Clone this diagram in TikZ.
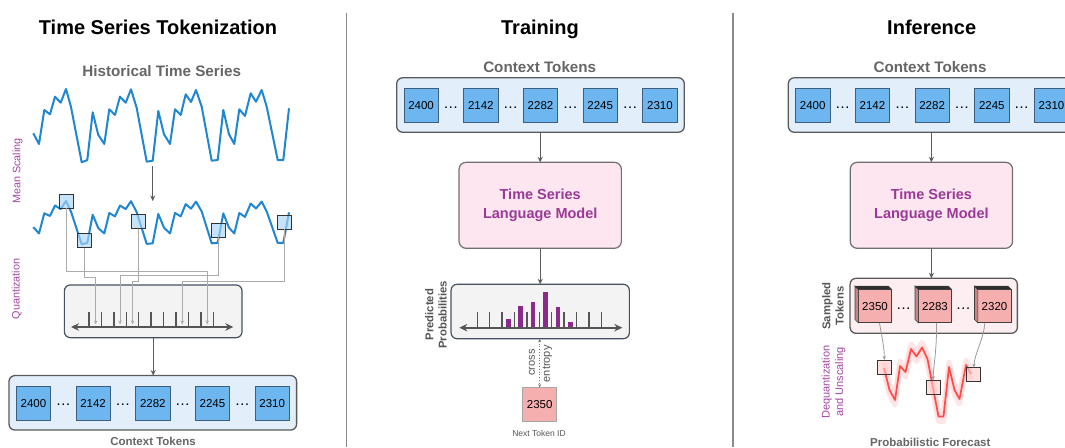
\documentclass[tikz,border=0pt]{standalone}
\usepackage{fontspec}
\setmainfont{Liberation Sans}
\usetikzlibrary{arrows.meta,calc}
\definecolor{tsblue}{HTML}{1F87D2}
\definecolor{tokfill}{HTML}{6DB6EF}
\definecolor{tokborder}{HTML}{3E5E7E}
\definecolor{ctxfill}{HTML}{E2EFFA}
\definecolor{boxborder}{HTML}{5A5A5A}
\definecolor{qfill}{HTML}{F3F3F3}
\definecolor{qborder}{HTML}{46525F}
\definecolor{lmfill}{HTML}{FDE6EF}
\definecolor{lmborder}{HTML}{707070}
\definecolor{lmtext}{HTML}{9A3A96}
\definecolor{plab}{HTML}{A346A3}
\definecolor{barc}{HTML}{8C2A8C}
\definecolor{txtgray}{HTML}{666666}
\definecolor{darkg}{HTML}{555555}
\definecolor{arrg}{HTML}{5C5C5C}
\definecolor{lineg}{HTML}{ABABAB}
\definecolor{redl}{HTML}{FF4A4A}
\definecolor{pinkband}{HTML}{FFDADA}
\definecolor{sfill}{HTML}{FDEFF1}
\definecolor{stokfill}{HTML}{F5AFAF}
\definecolor{stokside}{HTML}{C98383}
\definecolor{sqblue}{HTML}{A9D5F7}
\definecolor{sqpink}{HTML}{FFC8C8}
\definecolor{divg}{HTML}{8A8A8A}
\tikzset{
  titletxt/.style={font=\bfseries\fontsize{20}{24}\selectfont, anchor=base, inner sep=0pt},
  subtxt/.style={font=\bfseries\fontsize{15.2}{18}\selectfont, text=txtgray, anchor=base, inner sep=0pt},
  smalltxt/.style={font=\bfseries\fontsize{11.5}{13}\selectfont, text=txtgray, anchor=base, inner sep=0pt},
  tok/.style={draw=tokborder, fill=tokfill, line width=0.7pt, minimum size=34.3pt, inner sep=0pt, outer sep=0pt, font=\fontsize{11.5}{13}\selectfont},
  ctxbox/.style={draw=boxborder, fill=ctxfill, line width=1.3pt, rounded corners=6pt, minimum width=287.6pt, minimum height=54.5pt, inner sep=0pt, outer sep=0pt},
  dotstxt/.style={font=\fontsize{15}{16}\selectfont, inner sep=0pt},
  qbox/.style={draw=qborder, fill=qfill, line width=1.2pt, rounded corners=6pt, inner sep=0pt, outer sep=0pt},
  lmbox/.style={draw=lmborder, fill=lmfill, line width=1.2pt, rounded corners=7pt, minimum width=162.3pt, minimum height=86pt, align=center, text=lmtext, outer sep=0pt, font=\bfseries\fontsize{14.5}{19.3}\selectfont},
  series/.style={draw=tsblue, line width=2pt, line join=round},
  qsq/.style={draw=black!80, fill=sqblue, fill opacity=0.65, text opacity=1, line width=0.9pt, minimum size=14pt, inner sep=0pt, outer sep=0pt},
  fsq/.style={draw=black!80, fill=sqpink, fill opacity=0.6, text opacity=1, line width=0.9pt, minimum size=14pt, inner sep=0pt, outer sep=0pt},
  arr/.style={draw=arrg, line width=0.9pt, -{Stealth[length=5.5pt,width=5pt]}},
  qline/.style={draw=lineg, line width=0.9pt, -{Stealth[length=4pt,width=3.4pt]}},
  carr/.style={draw=lineg!90!black, line width=0.8pt, -{Stealth[length=4pt,width=3.4pt]}},
  axisline/.style={draw=darkg, line width=1.8pt, {Stealth[length=8pt,width=7.5pt]}-{Stealth[length=8pt,width=7.5pt]}},
  tickline/.style={draw=darkg, line width=1.35pt},
  plabel/.style={font=\fontsize{10.8}{13}\selectfont, text=plab, inner sep=0pt},
  glabel/.style={font=\bfseries\fontsize{11.3}{13.3}\selectfont, text=darkg, inner sep=0pt},
  celabel/.style={font=\fontsize{11}{13}\selectfont, text=darkg, inner sep=0pt},
  nexttok/.style={draw=black!35, fill=stokfill, line width=0.7pt, minimum size=34pt, inner sep=0pt, outer sep=0pt, font=\fontsize{11.5}{13}\selectfont},
  stok/.style={draw=black!75, fill=stokfill, line width=0.7pt, minimum size=33.4pt, inner sep=0pt, outer sep=0pt, font=\fontsize{11.5}{13}\selectfont},
  sbox/.style={draw=boxborder, fill=sfill, line width=1.3pt, rounded corners=6pt, minimum width=167.3pt, minimum height=55pt, inner sep=0pt, outer sep=0pt},
  divider/.style={draw=divg, line width=1.4pt}
}
\newcommand\ctxrow[3]{%
  \node[ctxbox] (#1) at (#2,#3) {};
  \foreach \k/\v [count=\j] in {-2/2400,-1/2142,0/2282,1/2245,2/2310}
    {\node[tok] (#1t\j) at ($(#1)+(\k*59.7,0.3)$) {\v};}
  \foreach \k [count=\j] in {-1.5,-0.5,0.5,1.5}
    {\node[dotstxt] (#1d\j) at ($(#1)+(\k*59.7,2.2)$) {…};}
}
\newcommand\cubetok[3]{%
  \node[stok] (#1) at (#2,306.1) {#3};
  \draw[black!75, line width=0.6pt, fill=stokside] (#1.north west) -- ++(-3.3,-3.3) -- ($(#1.south west)+(-3.3,-3.3)$) -- (#1.south west) -- cycle;
  \draw[black!75, line width=0.6pt, fill=black!82] (#1.north west) -- ++(-3.3,-3.3) -- ($(#1.north east)+(-3.3,-3.3)$) -- (#1.north east) -- cycle;
}
\begin{document}
\begin{tikzpicture}[x=1pt,y=-1pt]
\useasboundingbox (0,0) rectangle (1065,447);
\clip (0,0) rectangle (1065,447);
\fill[white] (0,0) rectangle (1065,447);

% dividers
\coordinate (dv1a) at (346.7,13); \coordinate (dv1b) at (346.7,447);
\coordinate (dv2a) at (733,13); \coordinate (dv2b) at (733,447);
\draw[divider] (dv1a) -- (dv1b);
\draw[divider] (dv2a) -- (dv2b);

% titles
\node[titletxt] (t1) at (158,34) {Time Series Tokenization};
\node[titletxt] (t2) at (540,34) {Training};
\node[titletxt] (t3) at (931.7,34) {Inference};

%% ---------------- LEFT PANEL ----------------
\node[subtxt] (hts) at (161.7,76) {Historical Time Series};
\begin{scope}[shift={(0,89)}]
\draw[series] (33.3,44.3) -- (39,55) -- (44.3,21) -- (50,25.3) -- (55,7.7) -- (60.7,13.7) -- (66,0) -- (71,18) -- (81.7,73.3) -- (87.3,71) -- (92.7,23.3) -- (98.3,46) -- (104.3,55) -- (109.3,20.3) -- (115,26) -- (120,7.7) -- (125.7,13.7) -- (131,0.3) -- (136.7,19) -- (146.7,72.7) -- (152.7,71.7) -- (158.3,22) -- (164,45.3) -- (170,55) -- (175,20.3) -- (180.7,26) -- (185.7,5.3) -- (191,13) -- (196,1) -- (201.7,17.7) -- (211.7,71.7) -- (217.7,71) -- (223.3,21) -- (229,45.3) -- (234.3,55) -- (239.3,20.3) -- (245,27) -- (250.7,4.3) -- (256,12.7) -- (261.7,1) -- (266.7,17.7) -- (277.7,71) -- (283.3,71) -- (289,19.3);
\end{scope}
\coordinate (sa) at (152.7,166); \coordinate (sb) at (152.7,201);
\draw[arr] (sa) -- (sb);
\begin{scope}[shift={(0,201)}, yscale=0.59]
\draw[series] (33.3,44.3) -- (39,55) -- (44.3,21) -- (50,25.3) -- (55,7.7) -- (60.7,13.7) -- (66,0) -- (71,18) -- (81.7,73.3) -- (87.3,71) -- (92.7,23.3) -- (98.3,46) -- (104.3,55) -- (109.3,20.3) -- (115,26) -- (120,7.7) -- (125.7,13.7) -- (131,0.3) -- (136.7,19) -- (146.7,72.7) -- (152.7,71.7) -- (158.3,22) -- (164,45.3) -- (170,55) -- (175,20.3) -- (180.7,26) -- (185.7,5.3) -- (191,13) -- (196,1) -- (201.7,17.7) -- (211.7,71.7) -- (217.7,71) -- (223.3,21) -- (229,45.3) -- (234.3,55) -- (239.3,20.3) -- (245,27) -- (250.7,4.3) -- (256,12.7) -- (261.7,1) -- (266.7,17.7) -- (277.7,71) -- (283.3,71) -- (289,19.3);
\end{scope}
\node[plabel, rotate=90] (lms) at (17.7,171) {Mean Scaling};
\node[plabel, rotate=90] (lq) at (16.7,289) {Quantization};

% quantization box
\node[qbox, minimum width=177.7pt, minimum height=52.7pt] (qb) at (153.2,311.3) {};
\foreach \i in {0,...,10} {\draw[tickline] (89+12.43*\i,312) -- ++(0,15);}
\coordinate (la1) at (71,327); \coordinate (la2) at (233.3,327);
\draw[axisline] (la1) -- (la2);

% squares
\node[qsq] (sq1) at (66.7,201.3) {};
\node[qsq] (sq2) at (84,240.5) {};
\node[qsq] (sq3) at (138.7,221.5) {};
\node[qsq] (sq4) at (218.8,230.3) {};
\node[qsq] (sq5) at (284.7,222) {};
\coordinate (q1) at (207.2,324.5); \coordinate (h1) at (0,271);
\coordinate (q2) at (95.7,324.5);  \coordinate (h2) at (0,277.3);
\coordinate (q3) at (132.6,324.5); \coordinate (h3) at (0,281);
\coordinate (q4) at (120.1,324.5); \coordinate (h4) at (0,275);
\coordinate (q5) at (182.3,324.5); \coordinate (h5) at (0,281.7);
\draw[qline] (sq1.south) |- (q1 |- h1) -- (q1);
\draw[qline] (sq2.south) |- (q2 |- h2) -- (q2);
\draw[qline] (sq3.south) |- (q3 |- h3) -- (q3);
\draw[qline] (sq4.south) |- (q4 |- h4) -- (q4);
\draw[qline] (sq5.south) |- (q5 |- h5) -- (q5);

% context tokens left
\ctxrow{lctx}{152.8}{402.8}
\draw[arr] (qb.south) -- (qb.south |- lctx.north);
\node[smalltxt] (lctl) at (153,445) {Context Tokens};

%% ---------------- MIDDLE PANEL ----------------
\node[subtxt] (mctl) at (539.7,72) {Context Tokens};
\ctxrow{mctx}{540.5}{105}
\node[lmbox] (mlm) at (540.2,205.3) {Time Series\\Language Model};
\draw[arr] (mlm.north |- mctx.south) -- (mlm.north);
\node[qbox, minimum width=178.3pt, minimum height=54.4pt] (prob) at (540.2,311.5) {};
\draw[arr] (mlm.south) -- (mlm.south |- prob.north);
\foreach \bx/\by in {508.3/319.3, 520.7/305.7, 533.1/302.3, 545.5/292.3, 557.9/306.7, 570.3/321.7}
  {\fill[barc] (\bx-2.3,\by) rectangle (\bx+2.3,327.7);}
\foreach \i in {0,...,10} {\draw[tickline] (477.3+12.4*\i,311.7) -- ++(0,16);}
\coordinate (ma1) at (459.3,327.7); \coordinate (ma2) at (622.3,327.7);
\draw[axisline] (ma1) -- (ma2);
\node[glabel, rotate=90, align=center] (ppl) at (436,314.7) {Predicted\\Probabilities};
\node[nexttok] (next) at (539.7,404.5) {2350};
\draw[draw=darkg!80, line width=0.8pt, dotted, {Stealth[length=3.5pt,width=3pt]}-{Stealth[length=3.5pt,width=3pt]}] (next.north |- prob.south) -- (next.north);
\node[celabel, rotate=90] (cel1) at (532,362.5) {cross};
\node[celabel, rotate=90] (cel2) at (547.5,363.8) {entropy};
\node[font=\fontsize{8.5}{10}\selectfont, text=darkg, inner sep=0pt] (ntid) at (539,433.3) {Next Token ID};

%% ---------------- RIGHT PANEL ----------------
\node[subtxt] (rctl) at (930,72) {Context Tokens};
\ctxrow{rctx}{932.1}{105}
\node[lmbox] (rlm) at (931.4,205.3) {Time Series\\Language Model};
\draw[arr] (rlm.north |- rctx.south) -- (rlm.north);
\node[sbox] (sb) at (933.7,305.8) {};
\draw[arr] (rlm.south) -- (rlm.south |- sb.north);
\cubetok{st1}{875}{2350}
\cubetok{st2}{935}{2283}
\cubetok{st3}{994.5}{2320}
\node[dotstxt] (sd1) at (903.7,308.3) {…};
\node[dotstxt] (sd2) at (963.3,308.3) {…};
\node[glabel, rotate=90, align=center] (stl) at (833,306) {Sampled\\Tokens};
\node[plabel, font=\fontsize{11}{13.5}\selectfont, rotate=90, align=center] (dql) at (833.5,382) {Dequantization\\and Unscaling};

% forecast band and line
\foreach \yo in {-5,0,5} {
\draw[pinkband, line width=5pt, line join=round, opacity=0.7] (884,368+\yo) -- (889.5,390+\yo) -- (895,400+\yo) -- (900,366+\yo) -- (905.5,372+\yo) -- (911,349+\yo) -- (916.5,356.5+\yo) -- (922,347.5+\yo) -- (927.5,359+\yo) -- (938.5,416.5+\yo) -- (943.5,416.5+\yo) -- (949,367+\yo) -- (954.5,390+\yo) -- (959.5,399+\yo) -- (966,365+\yo) -- (971,374+\yo);
}
\draw[redl, line width=1.7pt, line join=round] (884,368) -- (889.5,390) -- (895,400) -- (900,366) -- (905.5,372) -- (911,349) -- (916.5,356.5) -- (922,347.5) -- (927.5,359) -- (938.5,416.5) -- (943.5,416.5) -- (949,367) -- (954.5,390) -- (959.5,399) -- (966,365) -- (971,374);
\node[fsq] (fs1) at (884.3,367) {};
\node[fsq] (fs2) at (933,387) {};
\node[fsq] (fs3) at (973.7,374.7) {};
\draw[carr] (st1.-75) .. controls (881.5,336) and (884.3,346) .. (fs1.north);
\draw[carr] (st2.-85) .. controls (937,350) and (933.5,365) .. (fs2.north);
\draw[carr] (st3.-120) .. controls (983.5,340) and (975,352) .. (fs3.north);
\node[smalltxt] (pfl) at (930.3,446.3) {Probabilistic Forecast};
\end{tikzpicture}
\end{document}
